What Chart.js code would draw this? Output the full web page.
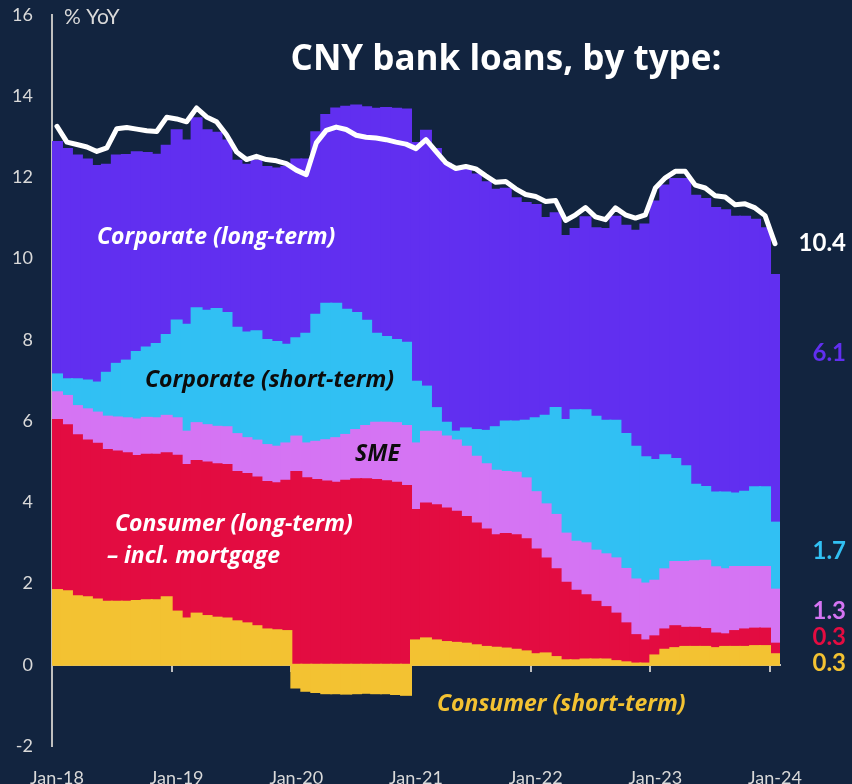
<!DOCTYPE html>
<html>
<head>
<meta charset="utf-8">
<script src="https://cdn.jsdelivr.net/npm/chart.js@4.4.1/dist/chart.umd.min.js"></script>
<style>
  html, body { margin: 0; padding: 0; background: #12243f; }
  #wrap { width: 852px; height: 784px; position: relative; }
</style>
</head>
<body>
<div id="wrap"><canvas id="chart"></canvas></div>
<script>
// monthly, Jan-18 .. Jan-24
const years = ["18", "19", "20", "21", "22", "23", "24"];
const monthNames = ["Jan", "Feb", "Mar", "Apr", "May", "Jun", "Jul", "Aug", "Sep", "Oct", "Nov", "Dec"];
const months = [];
years.forEach((yr) => {
  monthNames.forEach((m) => {
    if (yr === "24" && m !== "Jan") return;
    months.push(m + "-" + yr);
  });
});

const consumerShort = [
  1.84, 1.81, 1.69, 1.66, 1.61, 1.55, 1.55, 1.55, 1.57, 1.59, 1.59, 1.66,
  1.31, 1.14, 1.26, 1.20, 1.16, 1.14, 1.07, 1.02, 0.95, 0.87, 0.85, 0.83,
  -0.56, -0.64, -0.67, -0.70, -0.70, -0.71, -0.70, -0.69, -0.70, -0.70, -0.72, -0.74,
  0.60, 0.65, 0.60, 0.56, 0.54, 0.52, 0.48, 0.44, 0.42, 0.40, 0.37, 0.33,
  0.26, 0.28, 0.19, 0.11, 0.11, 0.13, 0.13, 0.13, 0.09, 0.06, 0.03, 0.03,
  0.23, 0.37, 0.41, 0.44, 0.44, 0.44, 0.41, 0.44, 0.44, 0.44, 0.46, 0.46,
  0.26
];
const consumerLong = [
  4.19, 4.09, 3.96, 3.86, 3.83, 3.74, 3.70, 3.66, 3.57, 3.58, 3.58, 3.55,
  3.84, 3.78, 3.76, 3.78, 3.78, 3.78, 3.68, 3.68, 3.66, 3.63, 3.62, 3.70,
  4.75, 4.59, 4.55, 4.51, 4.48, 4.53, 4.57, 4.57, 4.55, 4.52, 4.48, 4.40,
  3.21, 3.32, 3.33, 3.29, 3.23, 3.12, 3.00, 2.89, 2.77, 2.82, 2.82, 2.76,
  2.58, 2.34, 2.16, 1.91, 1.71, 1.58, 1.42, 1.29, 1.17, 0.96, 0.70, 0.57,
  0.47, 0.50, 0.54, 0.47, 0.47, 0.44, 0.36, 0.31, 0.39, 0.43, 0.43, 0.43,
  0.26
];
const sme = [
  0.68, 0.72, 0.72, 0.77, 0.77, 0.82, 0.84, 0.86, 0.90, 0.91, 0.90, 0.92,
  0.92, 0.82, 0.93, 0.92, 0.92, 0.93, 0.93, 0.88, 0.91, 0.91, 0.90, 0.92,
  0.87, 0.86, 0.94, 1.02, 1.10, 1.13, 1.21, 1.31, 1.41, 1.44, 1.47, 1.48,
  1.64, 1.77, 1.81, 1.77, 1.75, 1.73, 1.64, 1.61, 1.59, 1.53, 1.54, 1.50,
  1.41, 1.33, 1.34, 1.21, 1.21, 1.28, 1.26, 1.30, 1.36, 1.34, 1.37, 1.40,
  1.37, 1.48, 1.58, 1.62, 1.64, 1.68, 1.63, 1.60, 1.58, 1.54, 1.52, 1.52,
  1.33
];
const corpShort = [
  0.44, 0.41, 0.66, 0.71, 0.74, 1.08, 1.32, 1.42, 1.66, 1.73, 1.83, 1.99,
  2.41, 2.63, 2.83, 2.82, 2.90, 2.81, 2.62, 2.60, 2.69, 2.59, 2.58, 2.43,
  2.42, 2.70, 3.13, 3.36, 3.31, 3.08, 2.88, 2.59, 2.19, 2.11, 2.05, 2.05,
  1.52, 1.11, 0.58, 0.34, 0.22, 0.45, 0.66, 0.82, 1.07, 1.24, 1.26, 1.42,
  1.82, 2.18, 2.63, 2.80, 3.24, 3.28, 3.30, 3.29, 3.39, 3.32, 3.27, 3.11,
  2.97, 2.81, 2.54, 2.36, 1.88, 1.82, 1.84, 1.89, 1.81, 1.85, 1.96, 1.96,
  1.65
];
const corpLong = [
  5.72, 5.67, 5.51, 5.44, 5.33, 5.12, 5.13, 5.06, 4.92, 4.79, 4.66, 4.66,
  4.68, 4.54, 4.68, 4.44, 4.34, 4.25, 4.11, 4.13, 4.20, 4.26, 4.27, 4.38,
  4.40, 4.29, 4.49, 4.65, 4.81, 5.00, 5.11, 5.26, 5.54, 5.64, 5.69, 5.74,
  5.88, 6.30, 6.38, 6.38, 6.45, 6.39, 6.29, 6.12, 5.85, 5.73, 5.50, 5.36,
  5.25, 4.87, 4.80, 4.53, 4.46, 4.75, 4.64, 4.72, 5.02, 5.13, 5.32, 5.73,
  6.37, 6.64, 6.89, 7.07, 7.12, 7.09, 7.01, 6.95, 6.81, 6.77, 6.59, 6.38,
  6.10
];
const totalLoans = [
  13.26, 12.87, 12.81, 12.75, 12.64, 12.73, 13.20, 13.23, 13.19, 13.15, 13.13, 13.48,
  13.44, 13.37, 13.71, 13.49, 13.37, 13.05, 12.63, 12.44, 12.52, 12.44, 12.41, 12.34,
  12.18, 12.07, 12.85, 13.16, 13.24, 13.18, 13.04, 12.99, 12.97, 12.93, 12.87, 12.82,
  12.71, 12.93, 12.64, 12.36, 12.22, 12.27, 12.21, 12.04, 11.88, 11.90, 11.72, 11.58,
  11.53, 11.41, 11.43, 10.94, 11.08, 11.26, 11.03, 10.96, 11.25, 11.08, 11.00, 11.08,
  11.74, 11.99, 12.15, 12.15, 11.81, 11.74, 11.55, 11.52, 11.33, 11.35, 11.25, 11.06,
  10.37
];

// latest contributions shown on the right
const endLabels = ["10.4", "6.1", "1.7", "1.3", "0.3", "0.3"];

const AXIS = "#bfbfbf";
const TXT = "#d9d9d9";
const YELLOW = "#f3c232";
const RED = "#e30c41";
const PINK = "#d574f3";
const CYAN = "#31c0f3";
const PURPLE = "#612ff0";
const FONT = "Lato, 'Open Sans', sans-serif";
const NOTE_FONT = "'Open Sans', Lato, sans-serif";

const isJan = (i) => months[i] && months[i].indexOf("Jan") === 0;

const notes = {
  id: "notes",
  afterDraw(chart) {
    const ctx = chart.ctx;
    const put = (text, x, y, font, color, align) => {
      ctx.font = font;
      ctx.fillStyle = color;
      ctx.textAlign = align || "left";
      ctx.fillText(text, x, y);
    };
    ctx.save();
    ctx.textBaseline = "middle";
    put("CNY bank loans, by type:", 506, 60, "bold 35px " + NOTE_FONT, "#ffffff", "center");
    put("% YoY", 64, 17, "21px " + FONT, TXT);

    const lab = "italic bold 23px " + NOTE_FONT;
    put("Corporate (long-term)", 97, 237, lab, "#ffffff");
    put("Corporate (short-term)", 145, 380, lab, "#0c0c0c");
    put("SME", 355, 454, lab, "#0c0c0c");
    put("Consumer (long-term)", 115, 524, lab, "#ffffff");
    put("\u2013 incl. mortgage", 107, 556, lab, "#ffffff");
    put("Consumer (short-term)", 437, 704, lab, YELLOW);

    const num = "bold 24px " + FONT;
    const endColors = ["#ffffff", PURPLE, CYAN, PINK, RED, YELLOW];
    const endY = [243, 353, 551, 611, 637, 663];
    endLabels.forEach((t, i) => put(t, 846, endY[i], num, endColors[i], "right"));
    ctx.restore();
  }
};

const barSet = (label, data, color) => ({
  type: "bar",
  label: label,
  data: data,
  backgroundColor: color,
  borderWidth: 0,
  barPercentage: 1,
  categoryPercentage: 1,
  inflateAmount: 1,
  order: 2
});

new Chart(document.getElementById("chart"), {
  data: {
    labels: months,
    datasets: [
      barSet("Consumer (short-term)", consumerShort, YELLOW),
      barSet("Consumer (long-term)", consumerLong, RED),
      barSet("SME", sme, PINK),
      barSet("Corporate (short-term)", corpShort, CYAN),
      barSet("Corporate (long-term)", corpLong, PURPLE),
      {
        type: "line",
        label: "Total",
        data: totalLoans,
        borderColor: "#ffffff",
        borderWidth: 5,
        pointRadius: 0,
        tension: 0,
        borderJoinStyle: "round",
        borderCapStyle: "round",
        stack: "total",
        order: 0
      }
    ]
  },
  options: {
    responsive: true,
    maintainAspectRatio: false,
    animation: false,
    layout: { padding: { top: 15, right: 72, left: 0, bottom: 0 } },
    plugins: {
      legend: { display: false },
      tooltip: { enabled: false }
    },
    scales: {
      x: {
        stacked: true,
        offset: true,
        grid: { display: false },
        border: { display: false },
        ticks: {
          autoSkip: false,
          maxRotation: 0,
          padding: 13,
          color: TXT,
          font: { family: FONT, size: 18 },
          callback: (v, i) => (isJan(i) ? months[i] : "")
        },
        afterFit: (scale) => { scale.height = 38; }
      },
      xZero: {
        type: "category",
        position: { y: 0 },
        offset: true,
        grid: {
          offset: true,
          drawOnChartArea: false,
          drawTicks: true,
          tickLength: 6,
          lineWidth: 2,
          color: (c) => (c.index % 12 === 0 && c.index < months.length ? AXIS : "rgba(0,0,0,0)")
        },
        border: { display: true, color: AXIS, width: 2 },
        ticks: { display: false },
        afterFit: (scale) => { scale.height = 0; }
      },
      y: {
        stacked: true,
        min: -2,
        max: 16,
        // invisible tick length keeps labels off the axis without the
        // extra top padding that ticks.padding would add
        grid: { display: false, drawTicks: true, tickLength: 19 },
        border: { display: true, color: AXIS, width: 2 },
        ticks: {
          stepSize: 2,
          padding: 0,
          color: TXT,
          font: { family: FONT, size: 18 }
        },
        afterFit: (scale) => { scale.width = 52; }
      }
    }
  },
  plugins: [notes]
});
</script>
</body>
</html>
